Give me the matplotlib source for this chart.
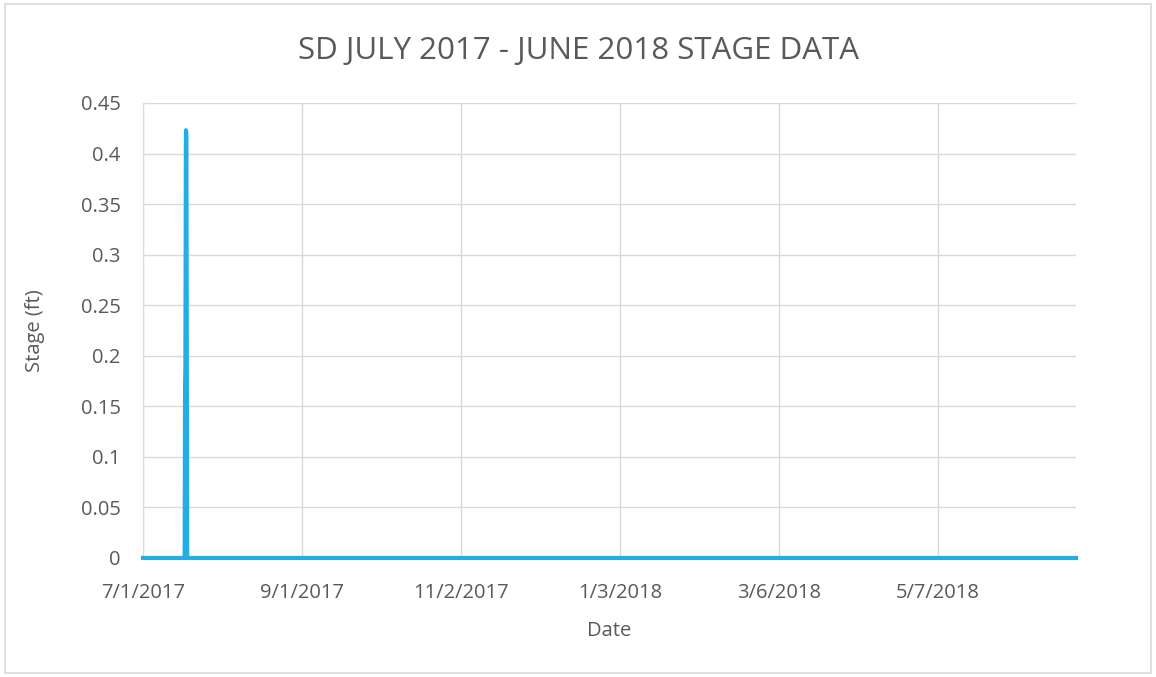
import datetime as dt
import matplotlib
matplotlib.use("Agg")
import matplotlib.pyplot as plt
import matplotlib.dates as mdates
from matplotlib.patches import Rectangle

# stage readings (mostly dry, one short event in mid July)
times = [
    dt.datetime(2017, 7, 1, 0, 0),
    dt.datetime(2017, 7, 17, 6, 0),
    dt.datetime(2017, 7, 17, 10, 0),
    dt.datetime(2017, 7, 17, 13, 0),
    dt.datetime(2017, 7, 17, 18, 0),
    dt.datetime(2017, 7, 17, 22, 0),
    dt.datetime(2017, 7, 18, 6, 0),
    dt.datetime(2018, 6, 30, 0, 0),
]
stage = [0.0, 0.0, 0.17, 0.19, 0.423, 0.42, 0.0, 0.0]

tick_dates = [dt.datetime(2017, 7, 1), dt.datetime(2017, 9, 1), dt.datetime(2017, 11, 2),
              dt.datetime(2018, 1, 3), dt.datetime(2018, 3, 6), dt.datetime(2018, 5, 7)]
tick_labels = ["7/1/2017", "9/1/2017", "11/2/2017", "1/3/2018", "3/6/2018", "5/7/2018"]
y_ticks = [0, 0.05, 0.1, 0.15, 0.2, 0.25, 0.3, 0.35, 0.4, 0.45]
y_labels = ["0", "0.05", "0.1", "0.15", "0.2", "0.25", "0.3", "0.35", "0.4", "0.45"]

plt.rcParams["font.family"] = ["Open Sans", "DejaVu Sans"]
text_col = "#595959"
grid_col = "#D9D9D9"

fig = plt.figure(figsize=(11.56, 6.77), dpi=100)
fig.patches.append(Rectangle((0.004, 0.006), 0.992, 0.988, transform=fig.transFigure,
                             fill=False, edgecolor=grid_col, linewidth=1.2))
ax = fig.add_axes([0.1237, 0.1758, 0.8071, 0.6721])

ax.plot(times, stage, color="#22ADE4", linewidth=3.0, solid_joinstyle="round",
        clip_on=False, zorder=3)

ax.set_xlim(dt.datetime(2017, 7, 1), dt.datetime(2018, 6, 30))
ax.set_ylim(0, 0.45)
ax.set_xticks(mdates.date2num(tick_dates))
ax.set_xticklabels(tick_labels)
ax.set_yticks(y_ticks)
ax.set_yticklabels(y_labels)

ax.grid(True, color=grid_col, linewidth=1.0)
ax.set_axisbelow(True)
for s in ["top", "right", "bottom"]:
    ax.spines[s].set_visible(False)
ax.spines["left"].set_color(grid_col)
ax.tick_params(length=0, labelsize=14.5, colors=text_col)
ax.tick_params(axis="x", pad=18)
ax.tick_params(axis="y", pad=16)

ax.set_xlabel("Date", fontsize=14.5, color=text_col, labelpad=13)
ax.set_ylabel("Stage (ft)", fontsize=14.5, color=text_col, labelpad=26)
fig.text(0.5, 0.925, "SD JULY 2017 - JUNE 2018 STAGE DATA", ha="center", va="center",
         fontsize=22.5, color=text_col)

fig.savefig("out.png", dpi=100)
